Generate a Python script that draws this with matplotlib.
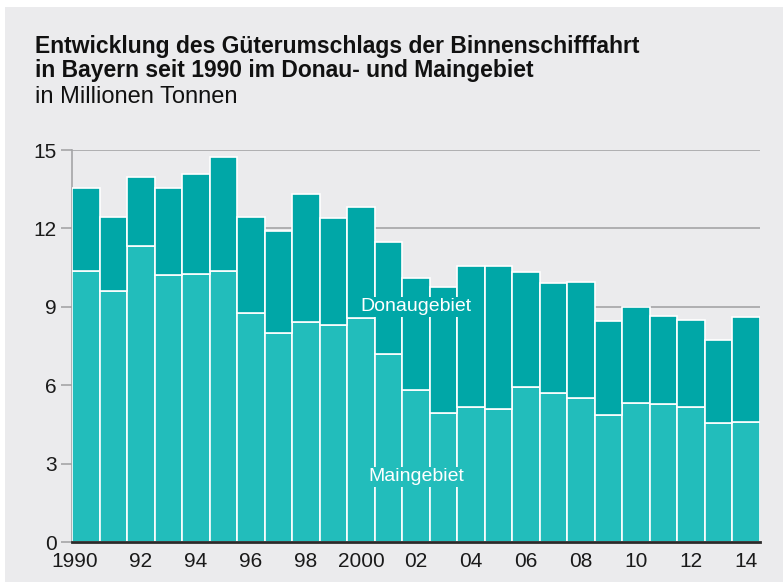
import numpy as np
import matplotlib
matplotlib.use("Agg")
import matplotlib.pyplot as plt
import matplotlib.transforms as mtransforms

plt.rcParams['font.family'] = ['Liberation Sans', 'DejaVu Sans']

years = list(range(1990, 2015))
# Maingebiet (lower part) and total per year, million tonnes
main = [10.38, 9.62, 11.34, 10.22, 10.27, 10.38, 8.76, 7.99, 8.41, 8.29,
        8.56, 7.21, 5.82, 4.95, 5.18, 5.08, 5.93, 5.71, 5.50, 4.85,
        5.33, 5.29, 5.18, 4.57, 4.59]
total = [13.53, 12.43, 13.96, 13.56, 14.08, 14.75, 12.44, 11.89, 13.31, 12.39,
         12.83, 11.49, 10.11, 9.76, 10.55, 10.55, 10.35, 9.91, 9.94, 8.47,
         8.98, 8.65, 8.51, 7.74, 8.61]
donau = [t - m for t, m in zip(total, main)]

tick_years = list(range(1990, 2015, 2))
tick_labels = ['1990', '92', '94', '96', '98', '2000', '02', '04', '06', '08', '10', '12', '14']

bg = '#ebebed'
c_main = '#22bdbb'
c_donau = '#00a7a7'

fig = plt.figure(figsize=(7.83, 5.87), dpi=100)
fig.patch.set_facecolor('white')
# grey panel with a thin white margin
fig.patches.append(plt.Rectangle((5 / 783, 5 / 587), 778 / 783, 575 / 587,
                                 transform=fig.transFigure, facecolor=bg,
                                 edgecolor='none', zorder=-10))

ax = fig.add_axes([72 / 783, 1 - 542 / 587, 688 / 783, 392 / 587])
ax.set_facecolor(bg)

ax.bar(years, main, width=1.0, color=c_main, edgecolor='white', linewidth=1.2, zorder=3)
ax.bar(years, donau, bottom=main, width=1.0, color=c_donau, edgecolor='white', linewidth=1.2, zorder=3)

ax.set_xlim(1989.5, 2014.5)
ax.set_ylim(0, 15)
ax.set_yticks([0, 3, 6, 9, 12, 15])
ax.yaxis.grid(True, color='#a5a5a7', linewidth=1.2, zorder=0)
ax.set_axisbelow(True)

ax.set_xticks(tick_years)
ax.set_xticklabels(tick_labels)
ax.tick_params(axis='x', length=0, labelsize=15, pad=7, colors='#1a1a1a')
ax.tick_params(axis='y', length=8, width=1.2, color='#a5a5a7', labelsize=15, pad=3, labelcolor='#1a1a1a')
# the first label sits a bit to the left
first = ax.get_xticklabels()[0]
first.set_transform(first.get_transform() + mtransforms.ScaledTranslation(-0.11, 0, fig.dpi_scale_trans))

for s in ['top', 'right']:
    ax.spines[s].set_visible(False)
ax.spines['left'].set_color('#a5a5a7')
ax.spines['left'].set_linewidth(1.2)
ax.spines['bottom'].set_color('#2a2a2a')
ax.spines['bottom'].set_linewidth(2)
ax.spines['bottom'].set_zorder(5)

ax.text(2002.0, 9.0, 'Donaugebiet', color='white', fontsize=14, ha='center', va='center', zorder=6,
        bbox=dict(facecolor=c_donau, edgecolor='none', pad=1))
ax.text(2002.0, 2.5, 'Maingebiet', color='white', fontsize=14, ha='center', va='center', zorder=6,
        bbox=dict(facecolor=c_main, edgecolor='none', pad=1))

fig.text(35 / 783, 1 - 46 / 587, 'Entwicklung des Güterumschlags der Binnenschifffahrt',
         fontsize=16.5, fontweight='bold', va='center', color='#111111')
fig.text(35 / 783, 1 - 70 / 587, 'in Bayern seit 1990 im Donau- und Maingebiet',
         fontsize=16.5, fontweight='bold', va='center', color='#111111')
fig.text(35 / 783, 1 - 97 / 587, 'in Millionen Tonnen',
         fontsize=17, va='center', color='#111111')

fig.savefig('out.png', dpi=100, facecolor=fig.get_facecolor())
